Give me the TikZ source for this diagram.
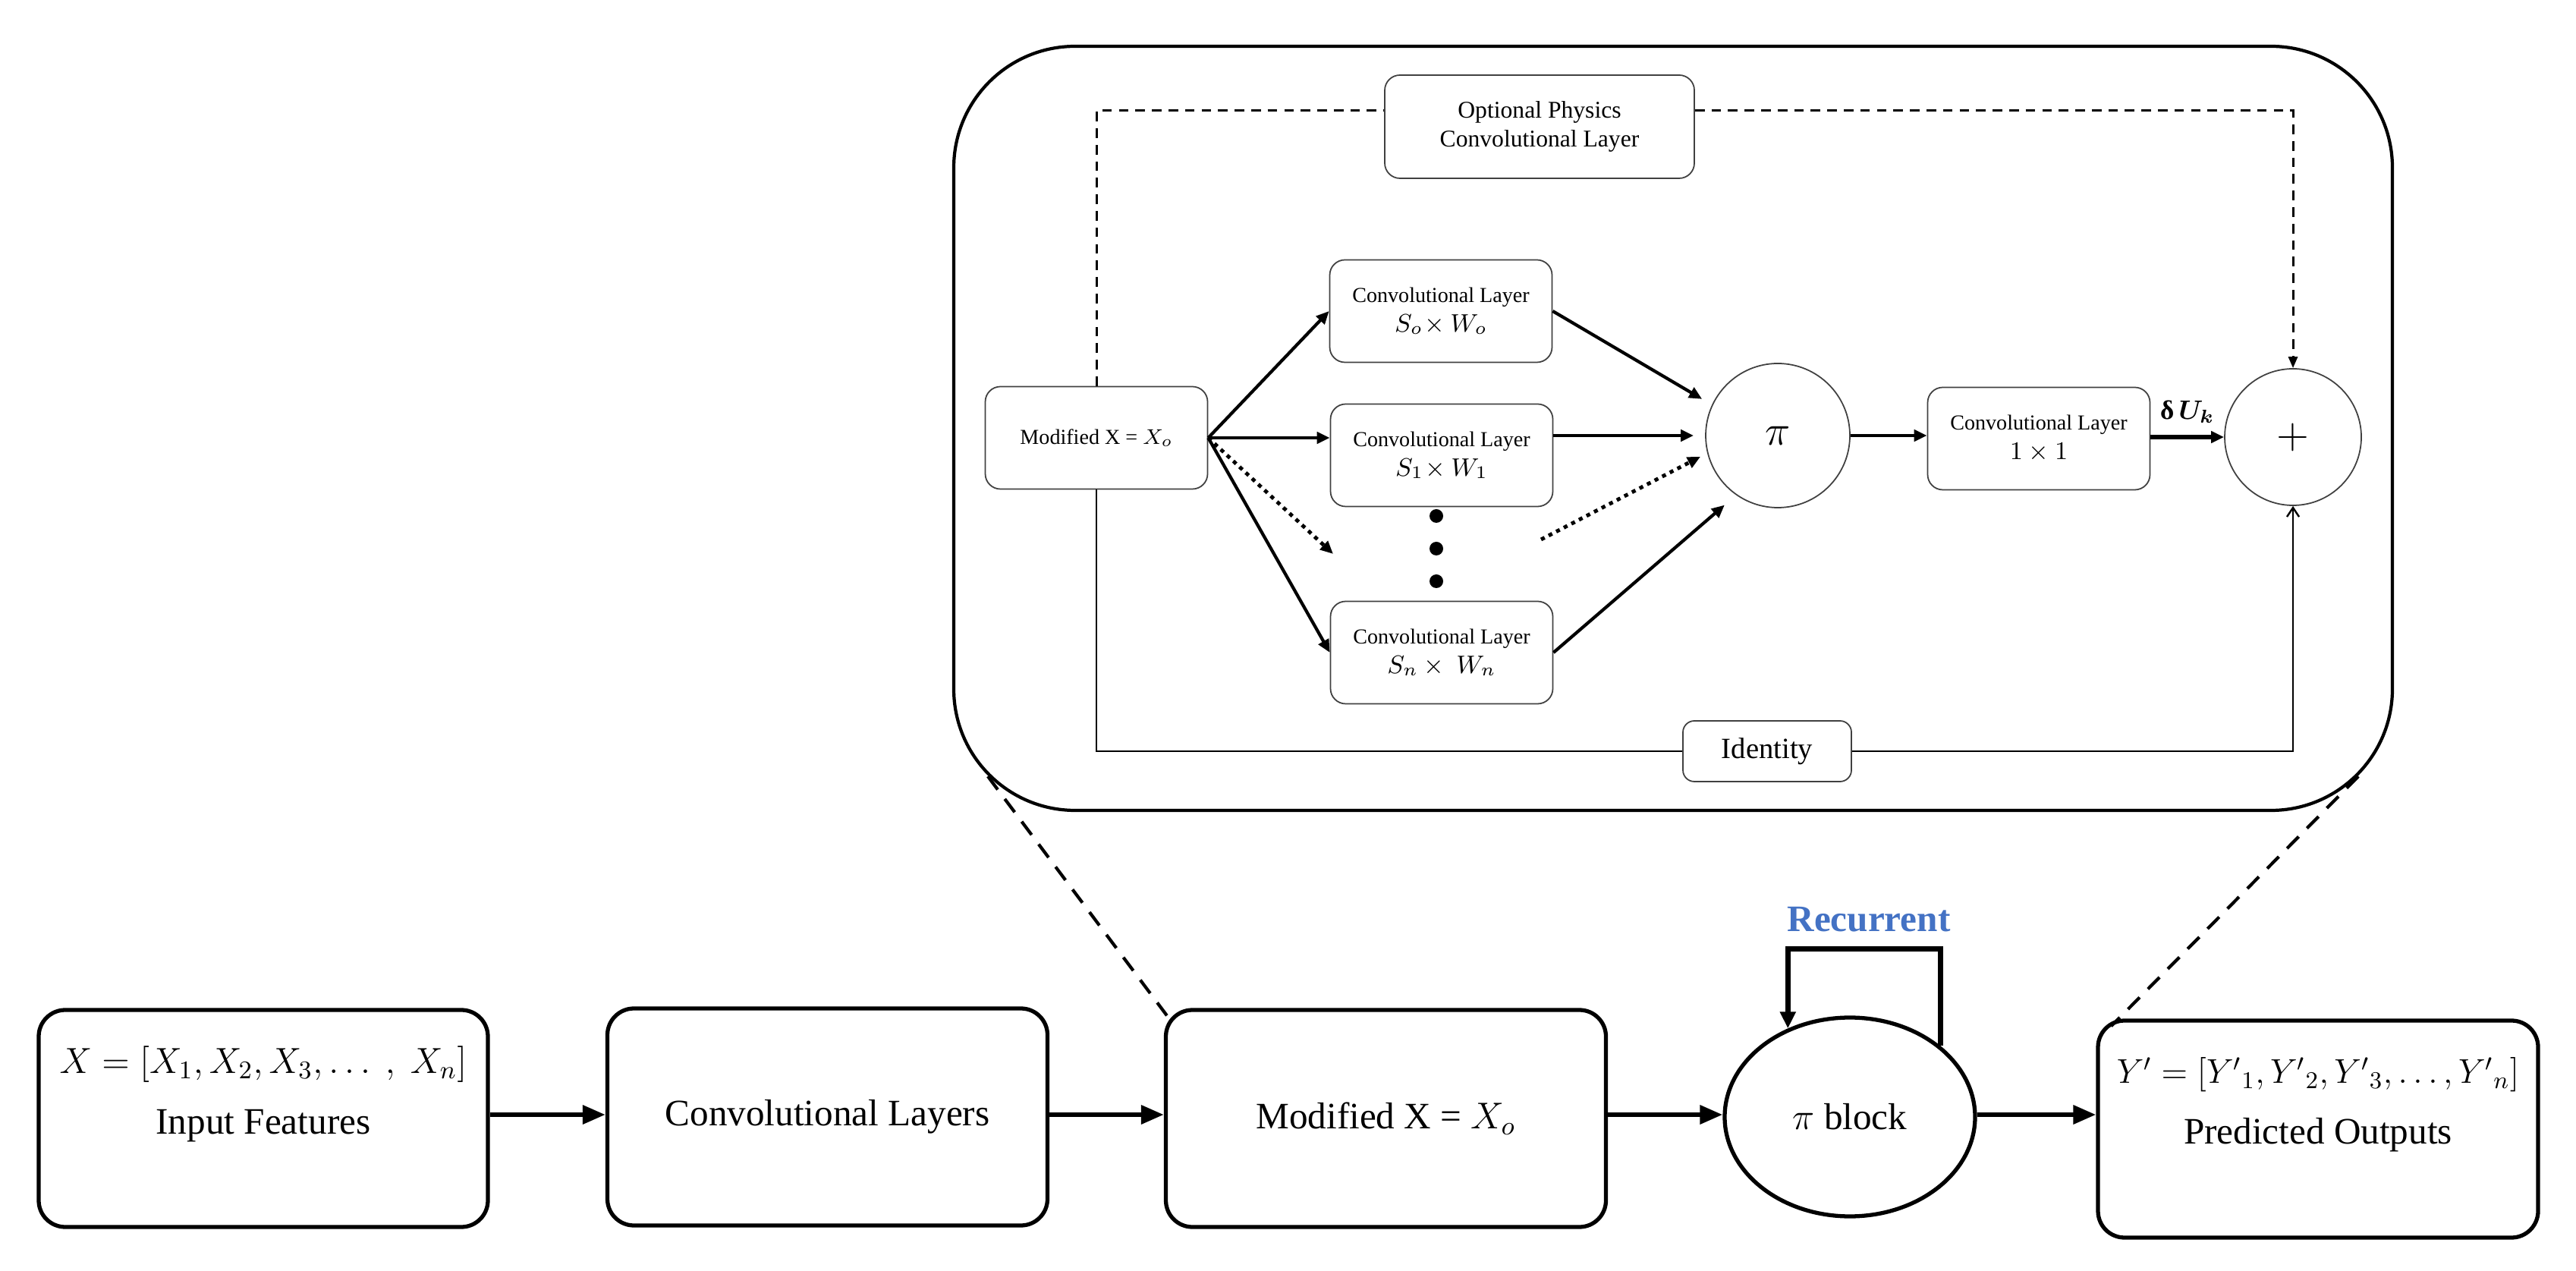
\documentclass[tikz,border=0pt]{standalone}
\usepackage{fix-cm}
\usepackage{fontspec}
\setmainfont{Liberation Serif}
\usepackage{bm}
\usetikzlibrary{arrows.meta,calc,shapes.geometric}
\definecolor{recblue}{RGB}{68,114,196}
\newcommand{\smallmath}[1]{{\fontsize{9.5}{11}\selectfont$#1$}}
\newcommand{\rowmath}[2]{{\fontsize{#1}{16}\selectfont$#2$}}
\begin{document}
\begin{tikzpicture}[
        bigbox/.style={draw,line width=1.5pt,rounded corners=.35cm,minimum width=5.8cm,minimum height=2.86cm,inner xsep=2pt,align=center,font=\fontsize{14}{17}\selectfont},
        smallbox/.style={draw=black!75,line width=.5pt,rounded corners=.2cm,minimum width=2.93cm,minimum height=1.35cm,align=center,font=\fontsize{8}{11}\selectfont},
        bigarrow/.style={-{Triangle[length=.3cm,width=.24cm]},line width=1.8pt},
        arr/.style={-{Triangle[length=.17cm,width=.15cm]},line width=1.2pt},
        dotarr/.style={arr,line width=1.4pt,dash pattern=on 1.5pt off 1.7pt},
        dashline/.style={line width=.85pt,dash pattern=on 3.6pt off 2.6pt},
        zoomline/.style={line width=1.2pt,dash pattern=on 6.2pt off 4.4pt},
        thinline/.style={line width=.7pt}
    ]
    \useasboundingbox (0,0) rectangle (33.95,16.74);
    % zoomed pi block
    \node[draw,line width=1.2pt,rounded corners=1.6cm,minimum width=18.96cm,minimum height=10.07cm] (outer) at (22.05,11.095) {};
    \node[smallbox] (mod) at (14.45,10.97) {Modified X = $X_o$};
    \node[smallbox] (s0) at (18.99,12.64) {Convolutional Layer\\\smallmath{S_o\!\times W_o}};
    \node[smallbox] (s1) at (19.00,10.74) {Convolutional Layer\\\smallmath{S_1\!\times W_1}};
    \node[smallbox] (sn) at (19.00,8.14) {Convolutional Layer\\\smallmath{S_n\times\ W_n}};
    \foreach \y/\n in {9.94/1,9.51/2,9.08/3}
        \node[circle,fill,inner sep=0pt,minimum size=.18cm] (dot\n) at (18.93,\y) {};
    \node[circle,draw=black!75,line width=.5pt,minimum size=1.9cm,font=\fontsize{16}{18}\selectfont] (pi) at (23.43,11.00) {$\pi$};
    \node[smallbox] (c11) at (26.87,10.96) {Convolutional Layer\\\smallmath{1\times1}};
    \node[circle,draw=black!75,line width=.5pt,minimum size=1.8cm,font=\fontsize{16}{18}\selectfont] (plus) at (30.22,10.98) {$+$};
    \node[smallbox,minimum width=4.08cm,minimum height=1.36cm,font=\fontsize{9}{11}\selectfont] (opt) at (20.29,15.07) {Optional Physics\\Convolutional Layer};
    \node[smallbox,minimum width=2.22cm,minimum height=.8cm,rounded corners=.15cm,font=\fontsize{11}{13}\selectfont] (idn) at (23.29,6.84) {Identity};
    \coordinate (dashy) at (0,15.28);
    \coordinate (dotend) at (17.57,9.44);
    \coordinate (dotstart) at (20.31,9.63);
    \draw[dashline] (mod.north) |- (opt.west |- dashy);
    \draw[dashline,-{Triangle[length=.15cm,width=.12cm]}] (opt.east |- dashy) -| (plus.north);
    \draw[thinline] (mod.south) |- (idn.west);
    \draw[thinline,-{Straight Barb[length=.12cm,width=.16cm]}] (idn.east) -| (plus.south);
    \draw[arr] (mod.east) -- (s0.west);
    \draw[arr] (mod.east) -- (mod.east -| s1.west);
    \draw[dotarr] (mod.east) -- (dotend);
    \draw[arr] (mod.east) -- (sn.west);
    \draw[arr,shorten >=.15cm] (s0.east) -- (pi.155);
    \draw[arr,shorten >=.15cm] (s1.east |- pi.west) -- (pi.west);
    \draw[dotarr,shorten >=.1cm] (dotstart) -- (pi.194);
    \draw[arr,shorten >=.2cm] (sn.east) -- (pi.235);
    \draw[arr] (pi.east) -- (pi.east -| c11.west);
    \draw[arr,line width=1.7pt] (c11.east |- plus.west) -- (plus.west) node[midway,above=1pt,font=\fontsize{10}{12}\selectfont] {\textbf{δ}\,$\bm{U_k}$};
    % main row
    \coordinate (rowy) at (0,2.05);
    \node[bigbox,minimum width=5.92cm] (inp) at (3.47,2.00) {\rowmath{13.6}{X = [X_1, X_2, X_3, \dots\ ,\ X_n]}\\[.2cm]Input Features\\[.15cm]\mbox{}};
    \node[bigbox] (conv) at (10.905,2.02) {Convolutional Layers};
    \node[bigbox] (modb) at (18.265,2.00) {Modified X = $X_o$};
    \node[draw,ellipse,line width=1.5pt,minimum width=3.3cm,minimum height=2.62cm,font=\fontsize{14}{17}\selectfont] (pib) at (24.38,2.02) {$\pi$ block};
    \node[bigbox] (pred) at (30.55,1.86) {\rowmath{12.9}{{Y'} = [{Y'}_1, {Y'}_2, {Y'}_3, \dots, {Y'}_n]}\\[.2cm]Predicted Outputs\\[.15cm]\mbox{}};
    \draw[bigarrow] (inp.east |- rowy) -- (conv.west |- rowy);
    \draw[bigarrow] (conv.east |- rowy) -- (modb.west |- rowy);
    \draw[bigarrow] (modb.east |- rowy) -- (pib.west |- rowy);
    \draw[bigarrow] (pib.east |- rowy) -- (pred.west |- rowy);
    \draw[line width=1.9pt,-{Triangle[length=.22cm,width=.2cm]}] (pib.38) -- ++(0,1.28) -| (pib.125);
    \node[font=\bfseries\fontsize{14}{17}\selectfont,text=recblue] (rec) at (24.63,4.62) {Recurrent};
    % zoom lines
    \coordinate (zl) at ($(outer.south west)+(.47,.47)$);
    \coordinate (zr) at ($(outer.south east)+(-.47,.47)$);
    \draw[zoomline] (zl) -- ([shift={(.04,-.1)}]modb.north west);
    \draw[zoomline] (zr) -- ([shift={(.2,-.1)}]pred.north west);
\end{tikzpicture}
\end{document}
